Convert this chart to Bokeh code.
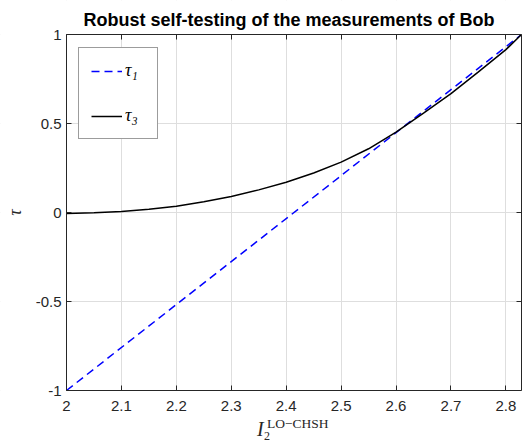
from bokeh.plotting import figure
from bokeh.models import Range1d, LinearAxis, FixedTicker, Label, Legend, LegendItem, BoxAnnotation
from bokeh.embed import file_html
from bokeh.resources import INLINE

# ---- data ----
x_tau1 = [2.0, 2.8284]
tau1 = [-1.0, 1.0]

x_tau3 = [2.0, 2.05, 2.1, 2.15, 2.2, 2.25, 2.3, 2.35, 2.4, 2.45, 2.5,
          2.55, 2.6, 2.65, 2.7, 2.75, 2.8, 2.8284]
tau3 = [-0.005, -0.001, 0.006, 0.018, 0.035, 0.060, 0.090, 0.127, 0.170, 0.222, 0.283,
        0.358, 0.452, 0.558, 0.668, 0.790, 0.915, 1.0]

x_ticks = [2.0, 2.1, 2.2, 2.3, 2.4, 2.5, 2.6, 2.7, 2.8]
x_tick_labels = ["2", "2.1", "2.2", "2.3", "2.4", "2.5", "2.6", "2.7", "2.8"]
y_ticks = [-1.0, -0.5, 0.0, 0.5, 1.0]
y_tick_labels = ["-1", "-0.5", "0", "0.5", "1"]

series_labels = ["τ₁", "τ₃"]
title_text = "Robust self-testing of the measurements of Bob"
y_label = "τ"
x_label_main, x_label_sub, x_label_sup = "I", "2", "LO−CHSH"

# ---- layout (pixels) ----
W, H = 522, 441
RIGHT = 1
BOX_LEFT, BOX_TOP, BOX_BOTTOM = 66, 34, 390   # axes box edges in the page
frame_w = W - RIGHT
frame_h = H
x_box_lo, x_hi_box = x_ticks[0], x_tau1[-1]
y_box_lo, y_box_hi = y_ticks[0], y_ticks[-1]
# the frame covers the whole canvas (axes box + margins), so that no text is clipped
x_per_px = (x_hi_box - x_box_lo) / (frame_w - BOX_LEFT)
y_per_px = (y_box_hi - y_box_lo) / (BOX_BOTTOM - BOX_TOP)
x_lo = x_box_lo - BOX_LEFT * x_per_px
y_lo = y_box_lo - (H - BOX_BOTTOM) * y_per_px
y_hi = y_box_hi + BOX_TOP * y_per_px

AX = "#262626"
GRID = "#dedede"
SANS = "Liberation Sans"
SERIF = "Liberation Serif"

p = figure(width=W, height=H, output_backend="svg", toolbar_location=None,
           x_range=Range1d(x_lo, x_hi_box), y_range=Range1d(y_lo, y_hi),
           min_border_left=0, min_border_right=RIGHT, min_border_top=0, min_border_bottom=0,
           background_fill_color="white", border_fill_color="white")
p.outline_line_color = None

def style_axis(ax, ticks, labels, show_labels=True):
    ax.ticker = FixedTicker(ticks=ticks)
    ax.axis_line_color = AX
    ax.axis_line_width = 1
    ax.major_tick_line_color = AX
    ax.major_tick_in = 5
    ax.major_tick_out = 0
    ax.minor_tick_line_color = None
    ax.major_label_text_font = SANS
    if show_labels:
        ax.major_label_overrides = {t: l for t, l in zip(ticks, labels)}
        ax.major_label_text_color = AX
        ax.major_label_text_font_size = "15px"
    else:
        ax.major_label_text_color = None
        ax.major_label_text_font_size = "1px"
        ax.major_label_standoff = 0

# grid (underlay), masked outside the axes box
p.xgrid.ticker = FixedTicker(ticks=x_ticks)
p.ygrid.ticker = FixedTicker(ticks=y_ticks)
p.xgrid.grid_line_color = GRID
p.ygrid.grid_line_color = GRID
for kw in (dict(top=y_box_lo), dict(bottom=y_box_hi), dict(right=x_box_lo)):
    p.add_layout(BoxAnnotation(fill_color="white", fill_alpha=1.0,
                               line_color=None, level="glyph", **kw))

xa = p.xaxis[0]
style_axis(xa, x_ticks, x_tick_labels)
xa.fixed_location = y_box_lo
xa.bounds = (x_box_lo, x_hi_box)
xa.major_label_standoff = 10

ya = p.yaxis[0]
style_axis(ya, y_ticks, y_tick_labels)
ya.fixed_location = x_box_lo
ya.bounds = (y_box_lo, y_box_hi)
ya.major_label_standoff = 5
ya.axis_label = y_label
ya.axis_label_text_font = SERIF
ya.axis_label_text_font_style = "italic"
ya.axis_label_text_font_size = "18px"
ya.axis_label_text_color = AX
ya.axis_label_standoff = 8

top = LinearAxis()
style_axis(top, x_ticks, x_tick_labels, show_labels=False)
top.fixed_location = y_box_hi
top.bounds = (x_box_lo, x_hi_box)
p.add_layout(top, "above")
right = LinearAxis()
style_axis(right, y_ticks, y_tick_labels, show_labels=False)
right.bounds = (y_box_lo, y_box_hi)
p.add_layout(right, "right")

r1 = p.line(x_tau1, tau1, line_color="#0000ff", line_width=1.5, line_dash="8 5")
r3 = p.line(x_tau3, tau3, line_color="black", line_width=1.5)

# legend anchored by its bottom-left corner, in pixels from the frame's bottom-left
LEG_LEFT, LEG_BOTTOM = 78, 139
legend = Legend(items=[LegendItem(label=series_labels[0], renderers=[r1]),
                       LegendItem(label=series_labels[1], renderers=[r3])],
                location=(LEG_LEFT, H - LEG_BOTTOM), margin=0, padding=12, spacing=24,
                glyph_width=31, glyph_height=20, label_height=20, label_standoff=3,
                label_text_font=SERIF, label_text_font_style="italic",
                label_text_font_size="18px", label_text_color="black",
                border_line_color="#3a3a3a", border_line_width=1,
                background_fill_color="white", background_fill_alpha=1.0)
p.add_layout(legend, "center")

xmid = (x_box_lo + x_hi_box) / 2

# title
p.add_layout(Label(x=xmid, y=y_box_hi, x_offset=-5, y_offset=15, text=title_text,
                   text_font=SANS, text_font_style="bold", text_font_size="18px",
                   text_color="black", text_align="center", text_baseline="middle"))

# x-axis label  I_2^{LO-CHSH}
p.add_layout(Label(x=xmid, y=y_box_lo, x_offset=-37, y_offset=-38, text=x_label_main,
                   text_font=SERIF, text_font_style="italic", text_font_size="20px",
                   text_color=AX, text_align="left", text_baseline="middle"))
p.add_layout(Label(x=xmid, y=y_box_lo, x_offset=-30, y_offset=-45, text=x_label_sub,
                   text_font=SERIF, text_font_size="12px",
                   text_color=AX, text_align="left", text_baseline="middle"))
p.add_layout(Label(x=xmid, y=y_box_lo, x_offset=-27, y_offset=-33, text=x_label_sup,
                   text_font=SERIF, text_font_size="13.5px",
                   text_color=AX, text_align="left", text_baseline="middle"))

open("out.html", "w").write(file_html(p, INLINE))
